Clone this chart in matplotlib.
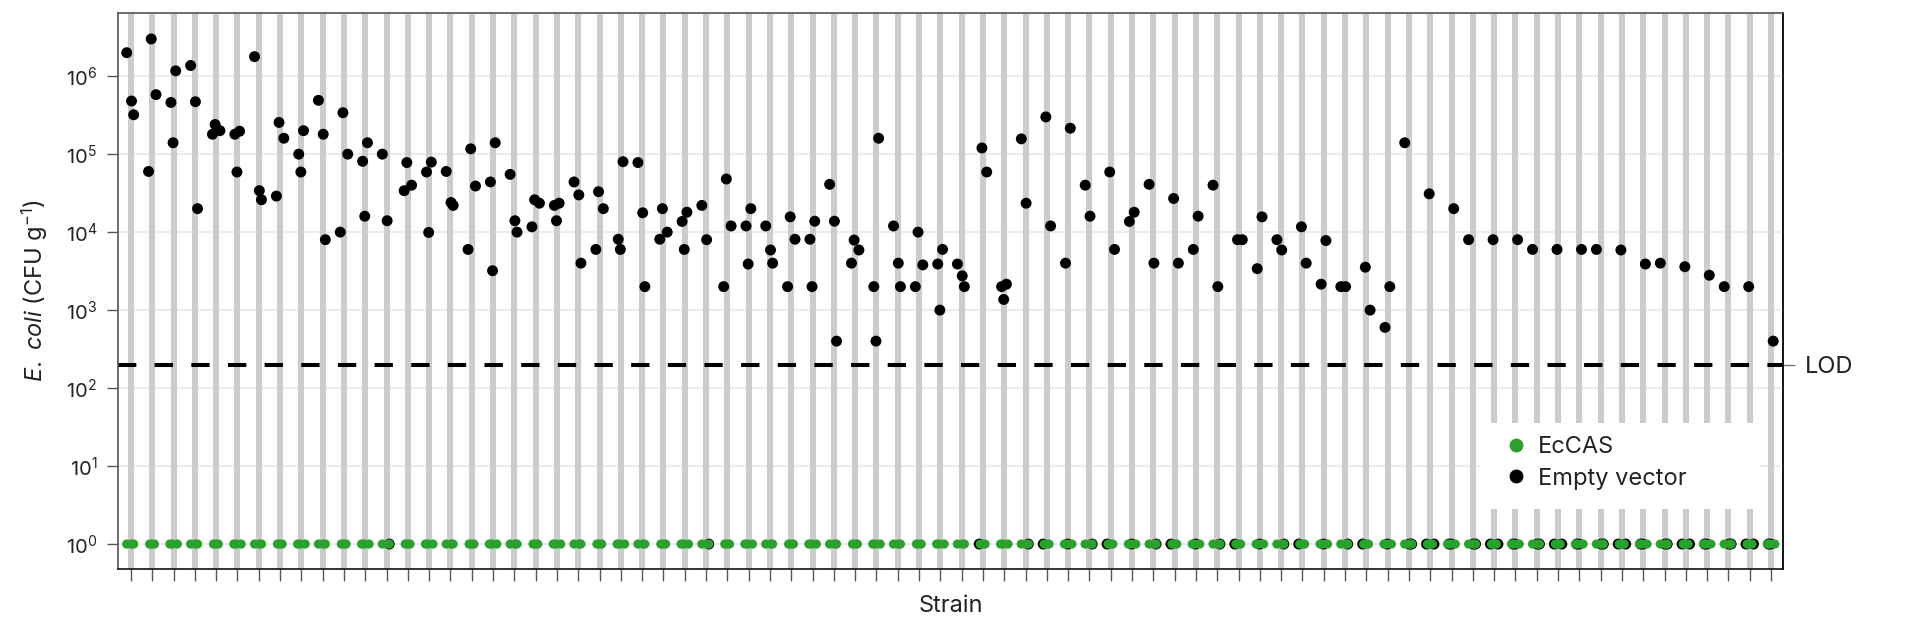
import matplotlib
matplotlib.use("Agg")
import matplotlib.pyplot as plt
from matplotlib.lines import Line2D
from matplotlib.patches import Rectangle
from matplotlib.ticker import NullLocator, FixedLocator
import numpy as np

plt.rcParams['font.family'] = ['Inter', 'DejaVu Sans']
plt.rcParams['mathtext.fontset'] = 'custom'
plt.rcParams['mathtext.rm'] = 'Inter'
plt.rcParams['mathtext.it'] = 'Inter:italic'

# ---------------- data ----------------
n_strains = 78
strains = list(range(n_strains))
LOD = 200
ytick_values = [1e0, 1e1, 1e2, 1e3, 1e4, 1e5, 1e6]

# Empty vector replicates (values below LOD plotted at 1)
ev_rep1 = [2.0e6, 3.0e6, 1.17e6, 1.37e6, 2.4e5, 1.97e5, 1.78e6, 2.55e5, 2.0e5, 4.9e5,
           3.4e5, 1.4e5, 1.0e5, 7.8e4, 7.9e4, 6.0e4, 1.17e5, 1.4e5, 5.5e4, 2.6e4,
           2.35e4, 4.4e4, 3.3e4, 8.0e4, 7.8e4, 2.0e4, 1.8e4, 2.2e4, 4.8e4, 2.0e4,
           1.2e4, 1.57e4, 1.38e4, 4.1e4, 7.9e3, 1.6e5, 1.2e4, 1.0e4, 6.0e3, 3.9e3,
           1.2e5, 2.15e3, 1.57e5, 3.0e5, 2.15e5, 4.0e4, 5.9e4, 1.8e4, 4.1e4, 2.7e4,
           1.6e4, 4.0e4, 8.0e3, 1.57e4, 8.0e3, 1.17e4, 7.8e3, 2.0e3, 3.55e3, 2.0e3,
           1.4e5, 3.1e4, 2.0e4, 8.0e3, 8.0e3, 8.0e3, 6.0e3, 6.0e3, 6.0e3, 6.0e3,
           5.9e3, 3.9e3, 4.0e3, 3.6e3, 2.8e3, 2.0e3, 2.0e3, 4.0e2]
ev_rep2 = [4.8e5, 5.8e5, 4.6e5, 4.7e5, 2.0e5, 1.8e5, 3.4e4, 1.6e5, 1.0e5, 1.8e5,
           1.0e5, 8.1e4, 1.4e4, 4.0e4, 5.9e4, 2.4e4, 3.9e4, 4.4e4, 1.4e4, 2.35e4,
           2.2e4, 3.0e4, 2.0e4, 8.1e3, 1.77e4, 1.0e4, 1.37e4, 8.0e3, 1.2e4, 1.2e4,
           5.9e3, 8.1e3, 8.1e3, 1.38e4, 5.9e3, 2.0e3, 4.0e3, 3.8e3, 3.9e3, 2.75e3,
           5.9e4, 2.0e3, 2.35e4, 1.2e4, 4.0e3, 1.6e4, 6.0e3, 1.37e4, 4.0e3, 4.0e3,
           6.0e3, 2.0e3, 8.0e3, 3.4e3, 5.9e3, 4.0e3, 2.15e3, 2.0e3, 1.0e3, 6.0e2,
           1, 1, 1, 1, 1, 1, 1, 1, 1, 1,
           1, 1, 1, 1, 1, 1, 1, 1]
ev_rep3 = [3.2e5, 6.0e4, 1.4e5, 2.0e4, 1.8e5, 5.9e4, 2.6e4, 2.9e4, 5.9e4, 8.0e3,
           1.0e4, 1.6e4, 1, 3.4e4, 9.9e3, 2.2e4, 6.0e3, 3.2e3, 1.0e4, 1.17e4,
           1.4e4, 4.0e3, 6.0e3, 6.0e3, 2.0e3, 8.1e3, 6.0e3, 1, 2.0e3, 3.9e3,
           4.0e3, 2.0e3, 2.0e3, 4.0e2, 4.0e3, 4.0e2, 2.0e3, 2.0e3, 1.0e3, 2.0e3,
           1, 1.37e3, 1, 1, 1, 1, 1, 1, 1, 1,
           1, 1, 1, 1, 1, 1, 1, 1, 1, 1,
           1, 1, 1, 1, 1, 1, 1, 1, 1, 1,
           1, 1, 1, 1, 1, 1, 1, 1]
# EcCAS replicates: all below LOD, plotted at 1
ecas_rep1 = [1.0] * n_strains
ecas_rep2 = [1.0] * n_strains
ecas_rep3 = [1.0] * n_strains

GREEN = '#2ca02c'
BAR = '#cccccc'

fig = plt.figure(figsize=(19.2, 6.27), dpi=100)
ax = fig.add_axes([118/1920, 58/627, 1665/1920, 556/627])
ax.set_yscale('log')
ax.set_ylim(10**-0.32, 10**6.81)
ax.set_xlim(-0.61, 77.56)

# faint horizontal grid
for v in ytick_values:
    ax.axhline(v, color='#ececec', lw=1.5, zorder=0.5)

# grey strain stripes
for s in strains:
    ax.axvline(s, color=BAR, lw=4.4, zorder=1)

# white legend area
ax.add_patch(Rectangle((0.818, 0.108), 0.168, 0.155, transform=ax.transAxes,
                       facecolor='white', edgecolor='none', zorder=1.5))

# LOD line
ax.axhline(LOD, color='black', lw=2.9, linestyle=(0, (4.55, 4.55)), zorder=2)

# deterministic jitter offsets (position only)
BASE = [-0.15, 0.0, 0.15]
def jit(i, r, shift):
    wobble = (((i * 5 + r * 3) % 5) - 2) * 0.025
    return BASE[(r + i * shift) % 3] + wobble

ev_reps = [ev_rep1, ev_rep2, ev_rep3]
ecas_reps = [ecas_rep1, ecas_rep2, ecas_rep3]
for r, rep in enumerate(ev_reps):
    xs = [s + jit(s, r, 1) for s in strains]
    ax.scatter(xs, rep, s=62, color='black', edgecolors='none', zorder=3)
for r, rep in enumerate(ecas_reps):
    xs = [s + jit(s, r, 2) for s in strains]
    ax.scatter(xs, rep, s=44, color=GREEN, edgecolors='none', zorder=4)

# axes styling
for side in ['left', 'top']:
    ax.spines[side].set_color('#555555')
for side in ['right', 'bottom']:
    ax.spines[side].set_color('#111111')
for sp in ax.spines.values():
    sp.set_linewidth(1.2)

ax.yaxis.set_major_locator(FixedLocator(ytick_values))
ax.yaxis.set_minor_locator(NullLocator())
ax.tick_params(axis='y', which='major', length=8, width=1, color='#555555',
               labelsize=14.5, labelcolor='#222222', pad=7)
ax.set_xticks(strains)
ax.tick_params(axis='x', length=8.5, width=1, color='#555555', labelbottom=False)

ax.set_ylabel(r'$\mathit{E.\ coli}$ (CFU g$^{-1}$)', fontsize=17, color='#222222', labelpad=11)
ax.set_xlabel('Strain', fontsize=17, color='#222222', labelpad=10)

sec = ax.secondary_yaxis('right')
sec.set_yticks([LOD])
sec.set_yticklabels(['LOD'])
sec.yaxis.set_minor_locator(NullLocator())
sec.tick_params(axis='y', length=8.5, width=1, color='#777777', labelsize=17,
                labelcolor='#222222', pad=7)
sec.spines['right'].set_color('#111111')
sec.spines['right'].set_linewidth(1.2)

handles = [Line2D([], [], marker='o', linestyle='none', markersize=10,
                  markerfacecolor=GREEN, markeredgecolor='none', label='EcCAS'),
           Line2D([], [], marker='o', linestyle='none', markersize=10,
                  markerfacecolor='black', markeredgecolor='none', label='Empty vector')]
fig.legend(handles=handles, loc='center left', bbox_to_anchor=(1504/1920, 1 - 463/627),
           frameon=False, fontsize=17, handlelength=1.0, handletextpad=0.45,
           labelspacing=0.4, borderpad=0, borderaxespad=0, labelcolor='#222222')

fig.savefig('out.png', dpi=100)
